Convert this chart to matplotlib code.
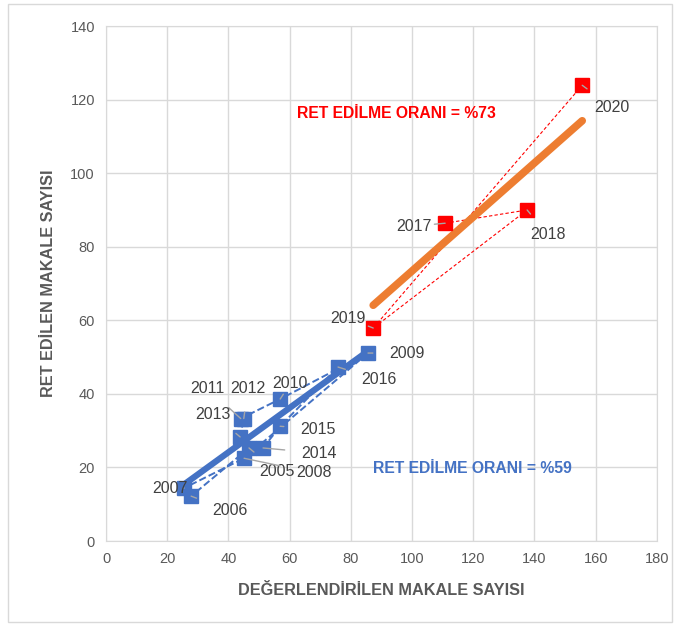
import numpy as np
import matplotlib.pyplot as plt
from matplotlib.patches import Rectangle

plt.rcParams['font.family'] = ['Liberation Sans', 'DejaVu Sans']

# blue series 2005-2016
blue_years = ['2005', '2006', '2007', '2008', '2009', '2010', '2011', '2012',
              '2013', '2014', '2015', '2016']
blue_x = [46.7, 27.8, 25.5, 45.1, 85.6, 56.9, 44.0, 45.0, 43.8, 51.3, 56.9, 75.8]
blue_y = [25.3, 12.2, 14.4, 22.5, 51.1, 38.6, 33.3, 33.3, 28.3, 25.3, 31.2, 47.3]
# label positions for the blue years
blue_lx = [55.9, 40.5, 20.9, 68.0, 98.4, 60.1, 33.0, 46.4, 35.0, 69.6, 69.3, 89.2]
blue_ly = [19.0, 8.2, 14.4, 18.5, 51.1, 42.7, 41.6, 41.6, 34.5, 23.9, 30.4, 43.8]

# red series 2017-2020
red_years = ['2017', '2018', '2019', '2020']
red_x = [110.8, 137.6, 87.3, 155.6]
red_y = [86.4, 90.0, 57.9, 123.9]
red_lx = [100.6, 144.4, 79.0, 165.4]
red_ly = [85.6, 83.2, 60.6, 117.9]

gray = '#595959'
blue = '#4472C4'
red = '#FF0000'
orange = '#ED7D31'

fig = plt.figure(figsize=(6.8, 6.28), dpi=100)
ax = fig.add_axes([0.156, 0.1385, 0.81, 0.82])

# connecting dashed lines in year order
ax.plot(blue_x, blue_y, ls='--', color=blue, lw=1.4, zorder=2)
ax.plot(red_x, red_y, ls=(0, (3, 2)), color=red, lw=0.8, zorder=2)

# trend lines through origin
def ratio(x, y):
    x = np.array(x)
    y = np.array(y)
    return (x * y).sum() / (x * x).sum()

kb = ratio(blue_x, blue_y)
kr = ratio(red_x, red_y)
xb = np.array([min(blue_x), max(blue_x)])
xr = np.array([min(red_x), max(red_x)])
ax.plot(xb, kb * xb, color=blue, lw=4.5, solid_capstyle='round', zorder=3)
ax.plot(xr, kr * xr, color=orange, lw=5.5, solid_capstyle='round', zorder=3)

ax.plot(blue_x, blue_y, 's', color=blue, ms=10, zorder=4)
ax.plot(red_x, red_y, 's', color=red, ms=10, zorder=4)

# year labels with leader lines
for yr, x, y, lx, ly in zip(blue_years + red_years, blue_x + red_x, blue_y + red_y,
                            blue_lx + red_lx, blue_ly + red_ly):
    ax.annotate(yr, (x, y), xytext=(lx, ly), textcoords='data', ha='center', va='center',
                fontsize=11.5, color='#404040', zorder=5,
                arrowprops=dict(arrowstyle='-', color='#a6a6a6', lw=1, shrinkA=10, shrinkB=0))

ax.text(95, 116.3, 'RET EDİLME ORANI = %73', color=red, fontsize=11.3, fontweight='bold',
        ha='center', va='center')
ax.text(119.6, 19.8, 'RET EDİLME ORANI = %59', color=blue, fontsize=11.3, fontweight='bold',
        ha='center', va='center')

ax.set_xlim(0, 180)
ax.set_ylim(0, 140)
ax.set_xticks(np.arange(0, 181, 20))
ax.set_yticks(np.arange(0, 141, 20))
ax.grid(color='#d9d9d9', lw=1)
ax.set_axisbelow(True)
for s in ax.spines.values():
    s.set_color('#d9d9d9')
ax.tick_params(length=0, labelsize=10.5, labelcolor=gray, pad=8)
ax.set_xlabel('DEĞERLENDİRİLEN MAKALE SAYISI', fontsize=11.7, fontweight='bold', color=gray, labelpad=12)
ax.set_ylabel('RET EDİLEN MAKALE SAYISI', fontsize=11.7, fontweight='bold', color=gray, labelpad=10)

fig.patches.append(Rectangle((0.012, 0.01), 0.976, 0.983, transform=fig.transFigure,
                             fill=False, edgecolor='#d9d9d9', lw=1))

plt.savefig('out.png', dpi=100)
